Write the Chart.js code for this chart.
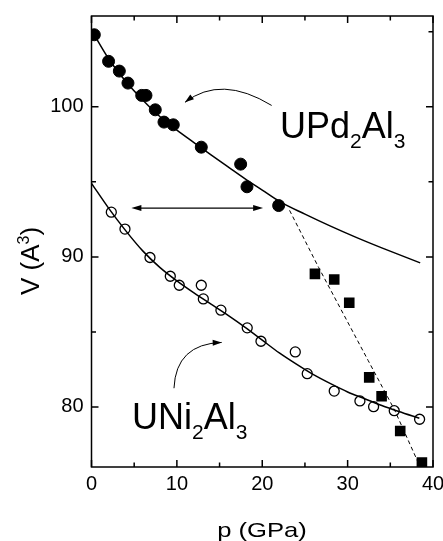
<!DOCTYPE html>
<html>
<head>
<meta charset="utf-8">
<script src="https://cdn.jsdelivr.net/npm/chart.js@4.4.1/dist/chart.umd.min.js"></script>
<style>
  html,body{margin:0;padding:0;background:#fff}
  canvas{display:block}
</style>
</head>
<body>
<canvas id="c" width="443" height="541"></canvas>
<script>
// ── DATA ──
// UPd2Al3 (filled circles)
const pdP = [0.33, 2.0, 3.26, 4.27, 5.88, 6.38, 7.47, 8.49, 9.58, 12.86, 17.47, 18.21, 21.92];
const pdV = [104.8, 103.03, 102.38, 101.58, 100.76, 100.76, 99.8, 98.98, 98.8, 97.31, 96.18, 94.67, 93.42];
// UNi2Al3 (open circles)
const niP = [2.32, 3.92, 6.85, 9.23, 10.28, 12.86, 13.1, 15.16, 18.24, 19.85, 23.87, 25.27, 28.43, 31.44, 33.04, 35.46, 38.43];
const niV = [92.98, 91.85, 89.96, 88.71, 88.11, 88.11, 87.2, 86.45, 85.27, 84.38, 83.67, 82.22, 81.06, 80.4, 80.02, 79.75, 79.18];
// high pressure phase (filled squares)
const hpP = [26.17, 28.43, 30.19, 32.53, 33.98, 36.16, 38.7];
const hpV = [88.87, 88.49, 86.94, 81.97, 80.71, 78.4, 76.29];
// fit curves
const fitPdP = [0, 2, 4, 6, 8, 10, 12, 14, 16, 18, 20, 22, 25, 28, 31, 34, 38.5];
const fitPdV = [105.1, 103.2, 101.7, 100.45, 99.35, 98.45, 97.62, 96.8, 96.0, 95.2, 94.45, 93.7, 92.85, 92.05, 91.3, 90.6, 89.6];
const fitNiP = [0, 2, 4, 6, 8, 10, 12, 14, 16, 18, 20, 22, 24, 26, 28, 30, 32, 34, 36, 38.4];
const fitNiV = [94.9, 93.25, 91.75, 90.4, 89.3, 88.4, 87.6, 86.85, 86.1, 85.3, 84.45, 83.6, 82.85, 82.15, 81.55, 81.0, 80.55, 80.1, 79.7, 79.25];
// dashed guide line
const dashP = [23.2, 26.6, 32.4, 35.5, 38.5];
const dashV = [93.1, 89.3, 83.1, 79.8, 76.0];

// axes
const xMajor = [0, 10, 20, 30, 40];
const xMinor = [5, 15, 25, 35];
const yMajor = [80, 90, 100];
const yMinor = [85, 95, 105];

// annotations (data units)
const dblArrow = {p1: 4.67, p2: 20.1, v: 93.25};
const arcPd = {from: [21.1, 100.09], ctrl: [15.17, 102.15], to: [10.95, 100.3]};
const arcNi = {from: [9.66, 81.25], ctrl: [9.89, 84.2], to: [15.25, 84.3]};

const FONT = "'Liberation Sans', Arial, Helvetica, sans-serif";
const pts = (xs, ys) => xs.map((x, i) => ({x, y: ys[i]}));

// ── DRAW HELPERS ──
function arrowHead(ctx, x, y, ang, len, half){
  ctx.beginPath();
  ctx.moveTo(x, y);
  ctx.lineTo(x - len*Math.cos(ang) + half*Math.sin(ang), y - len*Math.sin(ang) - half*Math.cos(ang));
  ctx.lineTo(x - len*Math.cos(ang) - half*Math.sin(ang), y - len*Math.sin(ang) + half*Math.cos(ang));
  ctx.closePath(); ctx.fill();
}

// parts: [text, shift]  shift 1 = subscript, -1 = superscript
function rich(ctx, parts, x, y, big, small, dy){
  parts.forEach(([t, s]) => {
    ctx.font = s ? `${small}px ${FONT}` : `${big}px ${FONT}`;
    ctx.fillText(t, x, y + s*dy);
    x += ctx.measureText(t).width;
  });
}
function richWidth(ctx, parts, big, small){
  return parts.reduce((w, [t, s]) => { ctx.font = s ? `${small}px ${FONT}` : `${big}px ${FONT}`; return w + ctx.measureText(t).width; }, 0);
}

const decor = {
  id: 'decor',
  afterDraw(chart){
    const {ctx, chartArea: a, scales: {x, y}} = chart;
    ctx.save();
    ctx.strokeStyle = '#000'; ctx.fillStyle = '#000';
    ctx.lineWidth = 1.5;
    ctx.strokeRect(a.left, a.top, a.right - a.left, a.bottom - a.top);

    // inward ticks on all sides
    const tx = (v, len) => { const px = x.getPixelForValue(v);
      ctx.moveTo(px, a.bottom); ctx.lineTo(px, a.bottom - len);
      ctx.moveTo(px, a.top); ctx.lineTo(px, a.top + len); };
    const ty = (v, len) => { const py = y.getPixelForValue(v);
      ctx.moveTo(a.left, py); ctx.lineTo(a.left + len, py);
      ctx.moveTo(a.right, py); ctx.lineTo(a.right - len, py); };
    ctx.beginPath();
    xMajor.forEach(v => tx(v, 7)); xMinor.forEach(v => tx(v, 4.5));
    yMajor.forEach(v => ty(v, 7)); yMinor.forEach(v => ty(v, 4.5));
    ctx.stroke();

    // double arrow
    ctx.lineWidth = 1.2;
    const x1 = x.getPixelForValue(dblArrow.p1), x2 = x.getPixelForValue(dblArrow.p2), yy = y.getPixelForValue(dblArrow.v);
    ctx.beginPath(); ctx.moveTo(x1 + 6, yy); ctx.lineTo(x2 - 6, yy); ctx.stroke();
    arrowHead(ctx, x1, yy, Math.PI, 10, 3);
    arrowHead(ctx, x2, yy, 0, 10, 3);

    // curved arrows
    ctx.lineWidth = 1;
    [arcPd, arcNi].forEach(c => {
      const s = [x.getPixelForValue(c.from[0]), y.getPixelForValue(c.from[1])];
      const m = [x.getPixelForValue(c.ctrl[0]), y.getPixelForValue(c.ctrl[1])];
      const e = [x.getPixelForValue(c.to[0]), y.getPixelForValue(c.to[1])];
      ctx.beginPath(); ctx.moveTo(s[0], s[1]); ctx.quadraticCurveTo(m[0], m[1], e[0], e[1]); ctx.stroke();
      arrowHead(ctx, e[0], e[1], Math.atan2(e[1] - m[1], e[0] - m[0]), 9, 3);
    });

    // compound labels
    ctx.textBaseline = 'alphabetic'; ctx.textAlign = 'left';
    rich(ctx, [['UPd',0],['2',1],['Al',0],['3',1]], x.getPixelForValue(22.07), y.getPixelForValue(97.93), 36, 21, 10);
    rich(ctx, [['UNi',0],['2',1],['Al',0],['3',1]], x.getPixelForValue(4.74), y.getPixelForValue(78.53), 36, 21, 10);

    // x title
    ctx.save();
    ctx.font = `21px ${FONT}`; ctx.textAlign = 'center';
    ctx.translate(262, 537); ctx.scale(1.22, 1);
    ctx.fillText('p (GPa)', 0, 0);
    ctx.restore();

    // y title
    const yt = [['V (A',0],['3',-1],[')',0]];
    ctx.translate(39, 261); ctx.rotate(-Math.PI/2);
    const w = richWidth(ctx, yt, 26, 16);
    rich(ctx, yt, -w/2, 0, 26, 16, 10);
    ctx.restore();
  }
};

new Chart(document.getElementById('c').getContext('2d'), {
  type: 'scatter',
  data: {
    datasets: [
      {data: pts(fitPdP, fitPdV), showLine: true, borderColor: '#000', borderWidth: 1.5, pointRadius: 0, tension: 0.4, cubicInterpolationMode: 'monotone'},
      {data: pts(fitNiP, fitNiV), showLine: true, borderColor: '#000', borderWidth: 1.5, pointRadius: 0, tension: 0.4, cubicInterpolationMode: 'monotone'},
      {data: pts(dashP, dashV), showLine: true, borderColor: '#000', borderWidth: 1, borderDash: [4, 3], pointRadius: 0},
      {data: pts(pdP, pdV), pointRadius: 6, pointBackgroundColor: '#000', pointBorderColor: '#000', pointBorderWidth: 1},
      {data: pts(niP, niV), pointRadius: 5, pointBackgroundColor: '#fff', pointBorderColor: '#000', pointBorderWidth: 1.3},
      {data: pts(hpP, hpV), pointStyle: 'rect', pointRadius: 7.5, pointBackgroundColor: '#000', pointBorderColor: '#000', pointBorderWidth: 0}
    ]
  },
  options: {
    responsive: false, animation: false,
    layout: {padding: {left: 0, top: 16, right: 0, bottom: 0}},
    plugins: {legend: {display: false}, tooltip: {enabled: false}},
    scales: {
      x: {
        type: 'linear', min: 0, max: 40,
        grid: {display: false, drawTicks: false}, border: {display: false},
        ticks: {stepSize: 10, padding: 5, color: '#000', font: {family: FONT, size: 20}},
        afterBuildTicks: s => { s.ticks = xMajor.map(v => ({value: v})); },
        afterFit: s => { s.height = 74; s.paddingLeft = 0; s.paddingRight = 10; }
      },
      y: {
        type: 'linear', min: 76, max: 106.05,
        grid: {display: false, drawTicks: false}, border: {display: false},
        ticks: {stepSize: 10, padding: 8, color: '#000', font: {family: FONT, size: 20}},
        afterBuildTicks: s => { s.ticks = yMajor.map(v => ({value: v})); },
        afterFit: s => { s.width = 91.5; s.paddingTop = 0; s.paddingBottom = 0; }
      }
    }
  },
  plugins: [decor]
});
</script>
</body>
</html>
